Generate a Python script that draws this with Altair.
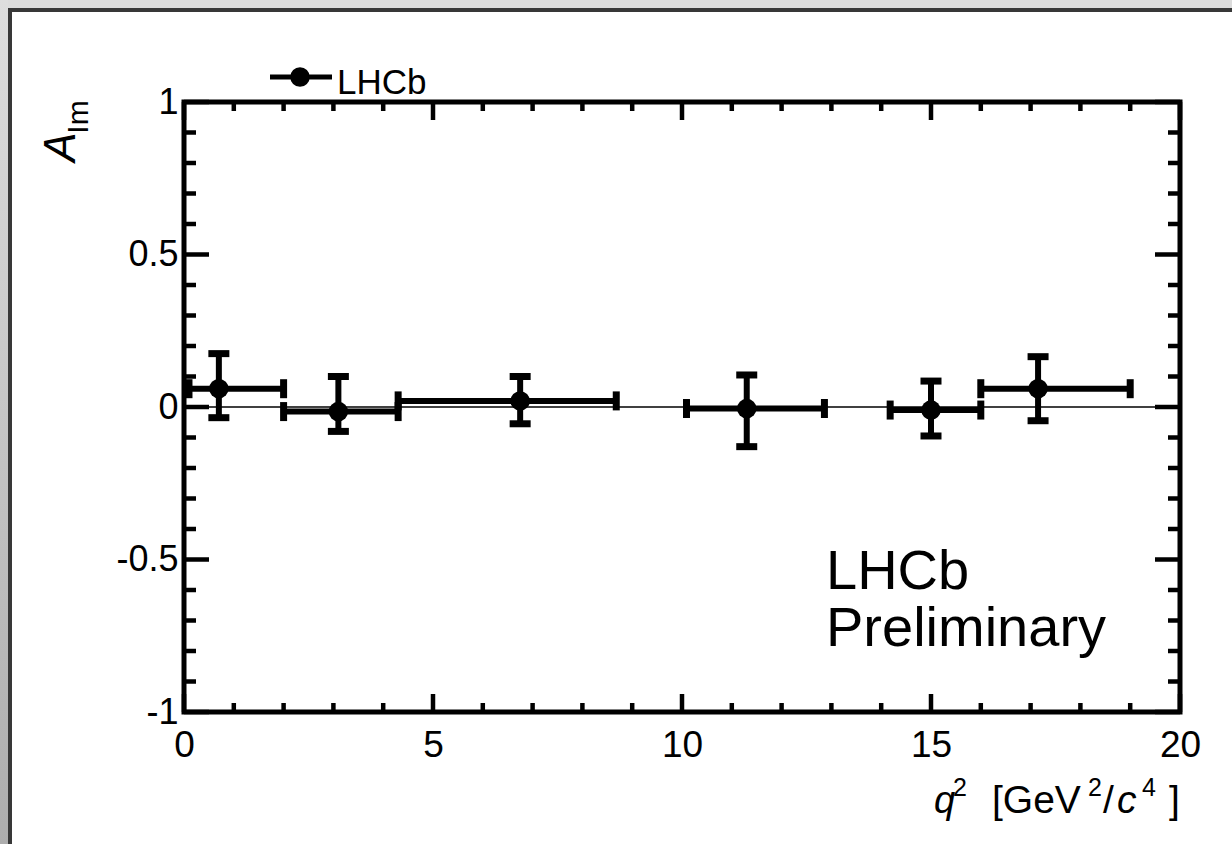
import altair as alt
import pandas as pd

# ---- data ----
q_lo = [0.1, 2.0, 4.3, 10.09, 14.18, 16.0]
q_hi = [2.0, 4.3, 8.68, 12.86, 16.0, 19.0]
q_c = [0.7, 3.1, 6.75, 11.3, 15.0, 17.15]
a_val = [0.06, -0.015, 0.02, -0.005, -0.01, 0.06]
a_lo = [-0.035, -0.08, -0.055, -0.13, -0.095, -0.045]
a_hi = [0.175, 0.10, 0.10, 0.105, 0.085, 0.165]

x_major = [0, 5, 10, 15, 20]
x_minor = [1, 2, 3, 4, 6, 7, 8, 9, 11, 12, 13, 14, 16, 17, 18, 19]
y_major = [-1, -0.5, 0, 0.5, 1]
y_minor = [-0.9, -0.8, -0.7, -0.6, -0.4, -0.3, -0.2, -0.1,
           0.1, 0.2, 0.3, 0.4, 0.6, 0.7, 0.8, 0.9]

FONT = "Liberation Sans"
W, H = 996, 610
PL, PT = 184, 102

df = pd.DataFrame({"q_lo": q_lo, "q_hi": q_hi, "q": q_c,
                   "a": a_val, "a_lo": a_lo, "a_hi": a_hi})
xs = alt.Scale(domain=[0, 20], nice=False, zero=False)
ys = alt.Scale(domain=[-1, 1], nice=False, zero=False)

x_axis = alt.Axis(values=x_major, labelExpr="toString(datum.value)", domain=False,
                  ticks=False, grid=False, labelFontSize=37, labelFont=FONT,
                  labelColor="black", labelPadding=15, labelFlush=False, title=None)
y_axis = alt.Axis(values=y_major, labelExpr="toString(datum.value)", domain=False,
                  ticks=False, grid=False, labelFontSize=36, labelFont=FONT,
                  labelColor="black", labelPadding=6, labelFlush=False, title=None)

X = lambda f: alt.X(f, type="quantitative", scale=xs, axis=x_axis)
Y = lambda f: alt.Y(f, type="quantitative", scale=ys, axis=y_axis)

base = alt.Chart(df)
px = lambda v: alt.value(v)
one = df.head(1)

# frame decoration outside the plot (pixel space)
bg_left = alt.Chart(one).mark_rect(
    color=alt.Gradient(gradient="linear",
                       stops=[alt.GradientStop(color="#dedede", offset=0),
                              alt.GradientStop(color="#adadad", offset=1)],
                       x1=0, x2=0, y1=0, y2=1)).encode(
    x=px(-PL), x2=px(-PL + 8), y=px(-PT), y2=px(844 - PT))
bg_top = alt.Chart(one).mark_rect(color="#dcdcdc").encode(
    x=px(-PL + 8), x2=px(1232 - PL), y=px(-PT), y2=px(-PT + 8))
dark_left = alt.Chart(one).mark_rect(color="#383838").encode(
    x=px(-PL + 8), x2=px(-PL + 12), y=px(-PT + 8), y2=px(844 - PT))
dark_top = alt.Chart(one).mark_rect(color="#383838").encode(
    x=px(-PL + 8), x2=px(1232 - PL), y=px(-PT + 8), y2=px(-PT + 12))

zero_line = alt.Chart(pd.DataFrame({"y0": [0]})).mark_rule(
    color="black", strokeWidth=1.5).encode(y=Y("y0"), x=px(0), x2=px(W))

xerr = base.mark_rule(color="black", strokeWidth=6).encode(
    x=X("q_lo"), x2="q_hi", y=Y("a"))
yerr = base.mark_rule(color="black", strokeWidth=6).encode(
    x=X("q"), y=Y("a_lo"), y2="a_hi")
tk = dict(color="black", opacity=1)
cap_l = base.mark_tick(orient="vertical", size=19, thickness=7, **tk).encode(
    x=X("q_lo"), y=Y("a"))
cap_r = base.mark_tick(orient="vertical", size=19, thickness=7, **tk).encode(
    x=X("q_hi"), y=Y("a"))
cap_b = base.mark_tick(orient="horizontal", size=21, thickness=7, **tk).encode(
    x=X("q"), y=Y("a_lo"))
cap_t = base.mark_tick(orient="horizontal", size=21, thickness=7, **tk).encode(
    x=X("q"), y=Y("a_hi"))
pts = base.mark_point(filled=True, color="black", opacity=1, size=380, shape="circle").encode(
    x=X("q"), y=Y("a"))

# manual inward ticks
dxM = pd.DataFrame({"v": x_major})
dxm = pd.DataFrame({"v": x_minor})
dyM = pd.DataFrame({"v": y_major})
dym = pd.DataFrame({"v": y_minor})
TW = 4.5
ticks = [
    alt.Chart(dxM).mark_rule(color="black", strokeWidth=TW).encode(x=X("v"), y=px(H), y2=px(H - 18)),
    alt.Chart(dxm).mark_rule(color="black", strokeWidth=TW).encode(x=X("v"), y=px(H), y2=px(H - 9)),
    alt.Chart(dxM).mark_rule(color="black", strokeWidth=TW).encode(x=X("v"), y=px(0), y2=px(18)),
    alt.Chart(dxm).mark_rule(color="black", strokeWidth=TW).encode(x=X("v"), y=px(0), y2=px(9)),
    alt.Chart(dyM).mark_rule(color="black", strokeWidth=TW).encode(y=Y("v"), x=px(0), x2=px(25)),
    alt.Chart(dym).mark_rule(color="black", strokeWidth=TW).encode(y=Y("v"), x=px(0), x2=px(12)),
    alt.Chart(dyM).mark_rule(color="black", strokeWidth=TW).encode(y=Y("v"), x=px(W), x2=px(W - 25)),
    alt.Chart(dym).mark_rule(color="black", strokeWidth=TW).encode(y=Y("v"), x=px(W), x2=px(W - 12)),
]

frame = alt.Chart(one).mark_rect(filled=False, stroke="black", strokeWidth=5,
                                 strokeJoin="miter").encode(
    x=px(0), x2=px(W), y=px(0), y2=px(H))


def txt(s, x, y, size, italic=False, align="left", baseline="alphabetic", angle=0):
    kw = dict(text=s, font=FONT, fontSize=size, color="black", align=align,
              baseline=baseline, fontStyle="italic" if italic else "normal")
    if angle:
        kw["angle"] = angle
    return alt.Chart(one).mark_text(**kw).encode(x=px(x - PL), y=px(y - PT))


# x title pieces:  q^2 [GeV^2/c^4]
xt = [
    txt("q", 934, 813, 38, italic=True),
    txt("2", 953, 796, 25),
    txt("[GeV", 992, 813, 39),
    txt("2", 1088, 796, 25),
    txt("/", 1103, 813, 39),
    txt("c", 1117, 813, 39, italic=True),
    txt("4", 1142, 796, 25),
    txt("]", 1169, 813, 39),
]
# y title  A_Im
yt = [
    txt("A", 75, 147, 44, italic=True, align="center", angle=270),
    txt("Im", 88, 117, 30, align="center", angle=270),
]
# annotation
ann = [
    txt("LHCb", 826, 589, 56),
    txt("Preliminary", 826, 646, 56),
]
# legend
leg_line = alt.Chart(one).mark_rule(color="black", strokeWidth=5).encode(
    x=px(270 - PL), x2=px(332 - PL), y=px(77 - PT))
leg_pt = alt.Chart(one).mark_point(filled=True, color="black", opacity=1,
                                   size=380, shape="circle").encode(
    x=px(300 - PL), y=px(77 - PT))
leg_txt = txt("LHCb", 337, 94, 35)

chart = alt.layer(
    bg_left, bg_top, dark_left, dark_top,
    zero_line, xerr, yerr, cap_l, cap_r, cap_b, cap_t, pts,
    *ticks, frame, *xt, *yt, *ann, leg_line, leg_pt, leg_txt
).properties(
    width=W, height=H,
    autosize=alt.AutoSizeParams(type="none"),
    padding={"left": PL, "top": PT, "right": 1232 - PL - W, "bottom": 844 - PT - H},
    background="white",
).configure_view(stroke=None)

chart.save("out.html", embed_options={"renderer": "svg", "actions": False})
